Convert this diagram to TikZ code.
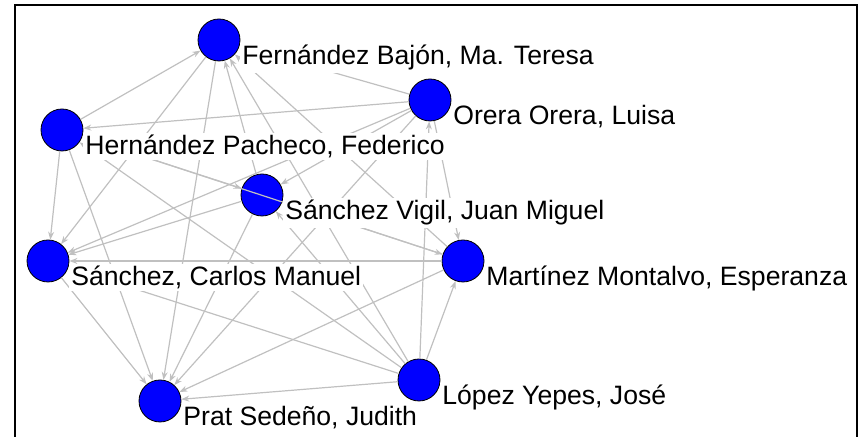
\documentclass[tikz,border=0pt]{standalone}
\usepackage{fontspec}
\setmainfont{Liberation Sans}
\usepackage{tikz}
\usetikzlibrary{arrows.meta}
\definecolor{nodeblue}{RGB}{0,0,255}
\definecolor{edgegray}{RGB}{192,192,192}
\tikzset{
  person/.style={circle,draw=black,line width=0.4pt,fill=nodeblue,minimum size=21pt,inner sep=0pt},
  namelbl/.style={anchor=base west,fill=white,inner sep=1pt,font=\fontsize{13.3pt}{16pt}\selectfont},
  link/.style={draw=edgegray,line width=0.6pt,-{Stealth[length=4pt,width=3pt]}}
}

\begin{document}
\begin{tikzpicture}[x=0.5pt,y=-0.5pt]
    \useasboundingbox (0,0) rectangle (863,437);
    \draw[line width=1.2pt] (15,437) -- (15,5) -- (857,5) -- (857,437);
    \node[person] (fb) at (219,40) {};
    \node[person] (oo) at (430,100) {};
    \node[person] (hp) at (62,130) {};
    \node[person] (sv) at (262,195) {};
    \node[person] (sc) at (48,261) {};
    \node[person] (mm) at (463,261) {};
    \node[person] (ly) at (419,380) {};
    \node[person] (ps) at (160,401) {};
    \foreach \a/\b in {oo/fb,oo/hp,oo/sv,oo/sc,oo/mm,ly/oo,oo/ps,
                       ly/fb,ly/hp,ly/sv,ly/mm,ly/sc,ly/ps,
                       mm/fb,mm/sc,mm/ps,mm/hp,
                       sv/fb,sv/sc,sv/ps,sv/mm,
                       hp/fb,hp/sc,hp/ps,hp/sv,
                       fb/sc,fb/ps,sc/ps}
      \draw[link] (\a) -- (\b);
    \node[namelbl] (fbl) at ([shift={(21,25)}]fb.center) {Fernández Bajón, Ma. Teresa};
    \node[namelbl] (ool) at ([shift={(21,25)}]oo.center) {Orera Orera, Luisa};
    \node[namelbl] (hpl) at ([shift={(21,25)}]hp.center) {Hernández Pacheco, Federico};
    \node[namelbl] (svl) at ([shift={(21,25)}]sv.center) {Sánchez Vigil, Juan Miguel};
    \node[namelbl] (scl) at ([shift={(21,25)}]sc.center) {Sánchez, Carlos Manuel};
    \node[namelbl] (mml) at ([shift={(21,25)}]mm.center) {Martínez Montalvo, Esperanza};
    \node[namelbl] (lyl) at ([shift={(21,25)}]ly.center) {López Yepes, José};
    \node[namelbl] (psl) at ([shift={(21,25)}]ps.center) {Prat Sedeño, Judith};
\end{tikzpicture}
\end{document}
